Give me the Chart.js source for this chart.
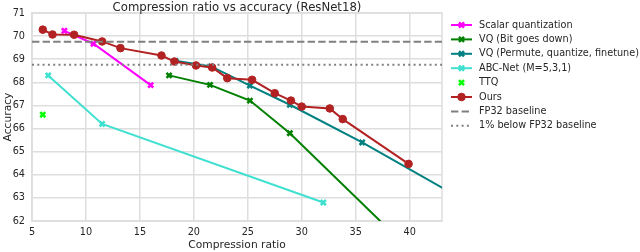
<!DOCTYPE html>
<html>
<head>
<meta charset="utf-8">
<script src="https://cdn.jsdelivr.net/npm/chart.js@4.4.1/dist/chart.umd.min.js"></script>
<style>
  html, body { margin: 0; padding: 0; background: #fff; }
</style>
</head>
<body>
<canvas id="myChart" width="640" height="252"></canvas>
<script>
// compression ratio (x) / top-1 accuracy (y)
const scalarRatio = [8.0, 10.7, 16.0];
const scalarAcc = [70.23, 69.67, 67.88];
const bgdRatio = [17.7, 21.5, 25.2, 28.9, 43.0];
const bgdAcc = [68.30, 67.89, 67.21, 65.80, 59.4];
const pqfRatio = [18.3, 21.6, 25.2, 28.9, 35.6, 50.0];
const pqfAcc = [68.93, 68.69, 67.86, 67.03, 65.40, 61.6];
const abcRatio = [6.5, 11.5, 32.0];
const abcAcc = [68.30, 66.20, 62.80];
const ttqRatio = [6.0];
const ttqAcc = [66.60];
const oursRatio = [6.0, 6.9, 8.9, 11.5, 13.2, 17.0, 18.2, 20.2, 21.7, 23.1, 25.4, 27.5, 29.0, 30.0, 32.6, 33.8, 39.9];
const oursAcc = [70.28, 70.07, 70.06, 69.77, 69.48, 69.16, 68.90, 68.73, 68.64, 68.18, 68.11, 67.53, 67.21, 66.95, 66.87, 66.41, 64.47];
const fp32Acc = 69.76;
const belowAcc = 68.76;

const xTicks = [5, 10, 15, 20, 25, 30, 35, 40];
const yTicks = [62, 63, 64, 65, 66, 67, 68, 69, 70, 71];
const xRange = [5, 43];

const titleText = 'Compression ratio vs accuracy (ResNet18)';
const font = '"DejaVu Sans", "Liberation Sans", sans-serif';
const textColor = '#262626';
const gridColor = '#dedede';

const xy = (xs, ys) => xs.map((x, i) => ({ x, y: ys[i] }));
const flat = (y) => xRange.map(x => ({ x, y }));

const cross = (label, xs, ys, color, showLine = true) => ({
    label,
    data: xy(xs, ys),
    showLine,
    borderColor: color,
    backgroundColor: color,
    borderWidth: 2,
    pointStyle: 'crossRot',
    pointRadius: 3.6,
    pointBorderWidth: 2.6,
    pointBorderColor: color,
    pointBackgroundColor: color,
});

const datasets = [
    cross('Scalar quantization', scalarRatio, scalarAcc, '#ff00ff'),
    cross('VQ (Bit goes down)', bgdRatio, bgdAcc, '#008000'),
    cross('VQ (Permute, quantize, finetune)', pqfRatio, pqfAcc, '#008080'),
    cross('ABC-Net (M=5,3,1)', abcRatio, abcAcc, '#40e0d0'),
    cross('TTQ', ttqRatio, ttqAcc, '#00ff00', false),
    {
        label: 'Ours',
        data: xy(oursRatio, oursAcc),
        showLine: true,
        borderColor: '#b22222',
        backgroundColor: '#b22222',
        borderWidth: 2,
        pointStyle: 'circle',
        pointRadius: 3.8,
        pointBorderWidth: 1,
        pointBorderColor: '#b22222',
        pointBackgroundColor: '#b22222',
    },
    {
        label: 'FP32 baseline',
        data: flat(fp32Acc),
        showLine: true,
        borderColor: '#808080',
        borderWidth: 2,
        borderDash: [7.4, 3.2],
        pointRadius: 0,
    },
    {
        label: '1% below FP32 baseline',
        data: flat(belowAcc),
        showLine: true,
        borderColor: '#808080',
        borderWidth: 2,
        borderDash: [2, 3.3],
        pointRadius: 0,
    },
];
// later series sit on top, like the original plot
datasets.forEach((d, i) => { d.order = datasets.length - i; });

const frameAndText = {
    id: 'frameAndText',
    beforeDatasetsDraw(chart) {
        const { ctx, chartArea: a } = chart;
        ctx.save();
        ctx.strokeStyle = gridColor;
        ctx.lineWidth = 1.5;
        ctx.strokeRect(a.left, a.top, a.right - a.left, a.bottom - a.top);
        ctx.restore();
    },
    afterDraw(chart) {
        const { ctx, chartArea: a } = chart;
        ctx.save();
        ctx.fillStyle = textColor;
        ctx.font = '11.7px ' + font;
        ctx.textAlign = 'center';
        ctx.textBaseline = 'alphabetic';
        ctx.fillText(titleText, (a.left + a.right) / 2, 10.5);

        // legend, outside the plot on the right
        ctx.font = '9.7px ' + font;
        ctx.textAlign = 'left';
        ctx.textBaseline = 'middle';
        chart.data.datasets.forEach((ds, i) => {
            const y = 25 + i * 14.4;
            ctx.save();
            ctx.strokeStyle = ds.borderColor;
            ctx.fillStyle = ds.borderColor;
            if (ds.showLine) {
                ctx.lineWidth = ds.borderWidth;
                ctx.setLineDash(ds.borderDash || []);
                ctx.beginPath();
                ctx.moveTo(451, y);
                ctx.lineTo(472, y);
                ctx.stroke();
            }
            ctx.setLineDash([]);
            if (ds.pointRadius) {
                ctx.lineWidth = ds.pointBorderWidth;
                Chart.helpers.drawPoint(ctx, {
                    pointStyle: ds.pointStyle,
                    radius: ds.pointRadius,
                    borderWidth: ds.pointBorderWidth,
                    rotation: 0,
                }, 461.5, y);
            }
            ctx.restore();
            ctx.fillText(ds.label, 479, y);
        });
        ctx.restore();
    },
};

const tickFont = { family: font, size: 9.7 };
const titleFont = { family: font, size: 10.7 };

new Chart(document.getElementById('myChart'), {
    type: 'scatter',
    data: { datasets },
    options: {
        responsive: false,
        animation: false,
        devicePixelRatio: 1,
        layout: { padding: { top: 13, right: 198, left: 0, bottom: 0 } },
        plugins: {
            legend: { display: false },
            title: { display: false },
            tooltip: { enabled: false },
        },
        scales: {
            x: {
                type: 'linear',
                min: xRange[0],
                max: xRange[1],
                afterBuildTicks: (s) => { s.ticks = xTicks.map(value => ({ value })); },
                afterFit: (s) => { s.height = 31; },
                ticks: { color: textColor, font: tickFont, padding: 6, maxRotation: 0, autoSkip: false },
                grid: { color: gridColor, lineWidth: 1.5, drawTicks: false },
                border: { color: gridColor, width: 1.5 },
                title: { display: true, text: 'Compression ratio', color: textColor, font: titleFont, padding: { top: 0, bottom: 0 } },
            },
            y: {
                type: 'linear',
                min: yTicks[0],
                max: yTicks[yTicks.length - 1],
                afterBuildTicks: (s) => { s.ticks = yTicks.map(value => ({ value })); },
                afterFit: (s) => { s.width = 32; },
                ticks: { color: textColor, font: tickFont, padding: 7 },
                grid: { color: gridColor, lineWidth: 1.5, drawTicks: false },
                border: { color: gridColor, width: 1.5 },
                title: { display: true, text: 'Accuracy', color: textColor, font: titleFont, padding: { top: 2, bottom: 0 } },
            },
        },
    },
    plugins: [frameAndText],
});
</script>
</body>
</html>
